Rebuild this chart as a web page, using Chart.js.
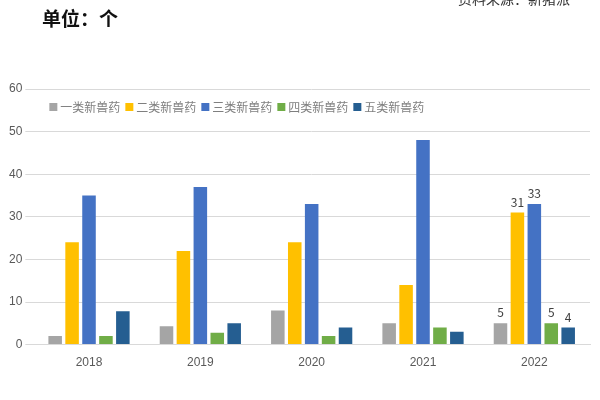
<!DOCTYPE html>
<html>
<head>
<meta charset="utf-8">
<script src="https://cdn.jsdelivr.net/npm/chart.js@4"></script>
<style>
    body { margin: 0; background: #fff; font-family: "Noto Sans CJK SC", sans-serif; }
    #wrap { position: relative; width: 600px; height: 400px; }
    #unit { position: absolute; left: 42px; top: 4px; font-size: 19px; font-weight: bold; color: #111; }
    #source { position: absolute; right: 30px; top: -12px; font-size: 14px; color: #333; }
    canvas { position: absolute; left: 0; top: 0; }
</style>
</head>
<body>
<div id="wrap">
    <canvas id="chart" width="600" height="400"></canvas>
    <div id="unit">单位：个</div>
    <div id="source">资料来源：新猪派</div>
</div>
<script>
const years = ['2018', '2019', '2020', '2021', '2022'];
const class1 = [2, 4.3, 8, 5, 5];
const class2 = [24, 22, 24, 14, 31];
const class3 = [35, 37, 33, 48, 33];
const class4 = [2, 2.8, 2, 4, 5];
const class5 = [7.8, 5, 4, 3, 4];

const FONT = '"Noto Sans CJK SC", sans-serif';

// labels only on the last year, as in the source
const lastLabels = {
    id: 'lastLabels',
    afterDatasetsDraw(chart) {
        const ctx = chart.ctx;
        ctx.save();
        ctx.font = '12px ' + FONT;
        ctx.fillStyle = '#404040';
        ctx.textAlign = 'center';
        chart.data.datasets.forEach((ds, i) => {
            const bar = chart.getDatasetMeta(i).data[4];
            ctx.fillText(ds.data[4], bar.x, bar.y - 6);
        });
        ctx.restore();
    }
};

// one-row legend inside the plot, under the top grid line
const innerLegend = {
    id: 'innerLegend',
    afterDraw(chart) {
        const ctx = chart.ctx;
        const area = chart.chartArea;
        let x = area.left + 16;
        const y = area.top + 18;
        ctx.save();
        ctx.font = '12px ' + FONT;
        ctx.textBaseline = 'middle';
        chart.data.datasets.forEach(ds => {
            ctx.fillStyle = ds.backgroundColor;
            ctx.fillRect(x, y - 4, 8, 8);
            x += 11;
            ctx.fillStyle = '#7F7F7F';
            ctx.fillText(ds.label, x, y);
            x += ctx.measureText(ds.label).width + 5;
        });
        ctx.restore();
    }
};

new Chart(document.getElementById('chart'), {
    type: 'bar',
    data: {
        labels: years,
        datasets: [
            { label: '一类新兽药', data: class1, backgroundColor: '#A5A5A5' },
            { label: '二类新兽药', data: class2, backgroundColor: '#FFC000' },
            { label: '三类新兽药', data: class3, backgroundColor: '#4472C4' },
            { label: '四类新兽药', data: class4, backgroundColor: '#70AD47' },
            { label: '五类新兽药', data: class5, backgroundColor: '#255E91' }
        ]
    },
    options: {
        responsive: false,
        animation: false,
        layout: { padding: { top: 89, left: 6, right: 10, bottom: 27 } },
        datasets: { bar: { categoryPercentage: 0.76, barPercentage: 0.8 } },
        plugins: {
            legend: { display: false },
            tooltip: { enabled: false }
        },
        scales: {
            x: {
                grid: { display: false },
                border: { color: '#D9D9D9' },
                ticks: { color: '#595959', font: { size: 12 } }
            },
            y: {
                min: 0,
                max: 60,
                ticks: { stepSize: 10, color: '#595959', font: { size: 12 } },
                grid: { color: '#D9D9D9' },
                border: { display: false }
            }
        }
    },
    plugins: [lastLabels, innerLegend]
});
</script>
</body>
</html>
